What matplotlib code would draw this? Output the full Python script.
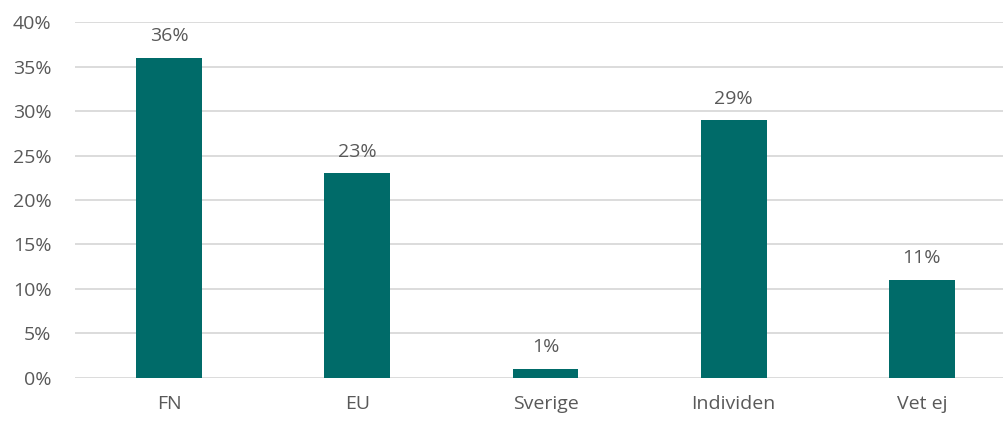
import matplotlib as mpl
mpl.use('Agg')
from matplotlib import pyplot as plt
from matplotlib.ticker import FuncFormatter

plt.rcParams['font.family'] = ['Open Sans', 'DejaVu Sans']

categories = ['FN', 'EU', 'Sverige', 'Individen', 'Vet ej']
values = [36, 23, 1, 29, 11]
yticks = [0, 5, 10, 15, 20, 25, 30, 35, 40]

textcol = '#595959'
barcol = '#006B69'

fig = plt.figure(figsize=(10.04, 4.22), dpi=100)
# axes run past the right edge like the cropped original
ax = fig.add_axes([75/1004, 44.3/422, 941/1004, 355.4/422])

x = range(len(categories))
ax.bar(x, values, width=0.35, color=barcol, zorder=2)

for i, v in enumerate(values):
    ax.annotate('%d%%' % v, (i, v), xytext=(0, 9), textcoords='offset points',
                ha='center', va='bottom', fontsize=14, color=textcol)

ax.set_xlim(-0.5, len(categories) - 0.5)
ax.set_ylim(0, 40)
ax.set_yticks(yticks)
ax.yaxis.set_major_formatter(FuncFormatter(lambda v, p: '%d%%' % v))
ax.set_xticks(list(x))
ax.set_xticklabels(categories)

ax.grid(axis='y', color='#d9d9d9', linewidth=1.3, zorder=0)
for s in ax.spines.values():
    s.set_visible(False)
ax.tick_params(length=0, labelsize=14, labelcolor=textcol)
ax.tick_params(axis='y', pad=17)
ax.tick_params(axis='x', pad=12.5)

plt.savefig('out.png', dpi=100)
plt.close()
